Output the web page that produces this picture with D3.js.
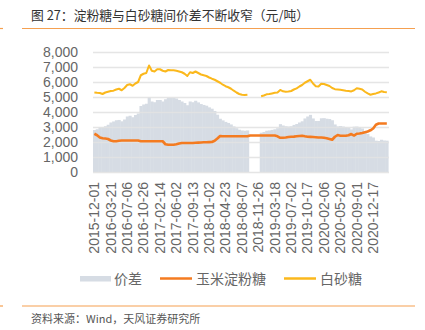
<!DOCTYPE html>
<html><head><meta charset="utf-8">
<script src="https://cdn.jsdelivr.net/npm/d3@7"></script>
<style>body{margin:0;background:#fff}svg{display:block}</style>
</head><body><svg id="c" width="425" height="330"></svg>
<script>
const titleText = "图 27：淀粉糖与白砂糖间价差不断收窄（元/吨）";
const sourceText = "资料来源：Wind，天风证券研究所";
const seriesNames = ["价差", "玉米淀粉糖", "白砂糖"];
const tickLabels = ["2015-12-01","2016-03-21","2016-07-06","2016-10-26","2017-02-14","2017-06-02",
  "2017-09-13","2018-01-02","2018-04-23","2018-08-07","2018-11-26","2019-03-18","2019-07-02",
  "2019-10-17","2020-02-06","2020-05-20","2020-09-01","2020-12-17"];
const samplesPerLabel = 6;
const yTicks = [0,1000,2000,3000,4000,5000,6000,7000,8000];

// 白砂糖
const sugar = [5300,5280,5270,5200,5300,5350,5400,5420,5500,5550,5450,5600,5800,5850,5750,5900,6000,6450,6550,6600,
  7100,6750,6700,6850,6850,6750,6700,6800,6780,6780,6750,6700,6650,6550,6400,6650,6600,
  6700,6600,6500,6450,6400,6300,6220,6150,6050,5950,5820,5720,5650,5550,5420,5300,5200,5150,5130,5150,
  null,null,null,null,
  5050,5100,5180,5200,5240,5280,5300,5470,5380,5350,5360,5400,5500,5580,5700,5800,5950,6050,6150,5900,
  5720,5700,5880,5870,5800,5730,5600,5520,5500,5480,5450,5420,5400,5370,5450,5580,5550,5500,5350,5240,
  5150,5200,5240,5300,5380,5330,5320];
// 玉米淀粉糖
const starch = [2550,2450,2300,2250,2230,2200,2100,2050,2050,2080,2100,2100,2100,2100,2100,2100,2100,
  2050,2050,2050,2050,2050,2050,2050,2050,2050,1850,1820,1820,1820,1850,1900,1930,1930,1930,1930,1930,
  1950,1960,1970,1980,1980,1990,2000,2080,2230,2400,2380,2380,2380,2380,2380,2380,2380,2380,2380,2380,
  2430,2430,2430,2430,2430,2430,2430,2430,2430,2430,2380,2280,2280,2300,2330,2350,2360,2380,2400,2420,
  2380,2350,2340,2330,2320,2300,2300,2280,2250,2200,2150,2350,2460,2420,2420,2420,2450,2530,2430,2550,
  2570,2600,2650,2700,2780,2900,3150,3230,3230,3230,3230];
// 价差
const spread = [2800,2850,2980,2980,3050,3150,3300,3370,3450,3470,3380,3500,3700,3750,3650,3800,3900,4400,4500,4550,
  5000,4700,4650,4800,4800,4700,4850,4950,4950,4950,4900,4800,4700,4600,4450,4700,4650,
  4750,4640,4530,4470,4420,4310,4220,4070,3820,3550,3440,3340,3270,3170,3040,2920,2820,2770,2750,2770,
  null,null,null,null,
  2620,2670,2750,2770,2810,2850,2920,3190,3100,3050,3030,3050,3140,3200,3300,3380,3570,3700,3810,3570,
  3400,3400,3580,3590,3550,3530,3450,3170,3040,3060,3030,3000,2950,2840,3020,3030,2980,2900,2700,2540,
  2370,2300,2090,2070,2150,2100,2090];

const svg = d3.select("#c");
const latin = "'Liberation Sans', Arial, 'Noto Sans CJK SC', sans-serif";
const cjk = "'Noto Sans CJK SC', 'Liberation Sans', sans-serif";
const colSpread = "#d6dce4", colStarch = "#f47b20", colSugar = "#fbb81c", colRule = "#f5a050";

// header / footer
svg.append("text").attr("x", 31).attr("y", 19.5).text(titleText)
  .style("font-family", cjk).style("font-size", "12.8px").style("fill", "#333");
[[22,415,28.5],[0,3,28.5],[22,415,306],[0,3,306]].forEach(([a,b,yy]) =>
  svg.append("line").attr("x1",a).attr("x2",b).attr("y1",yy).attr("y2",yy)
    .attr("stroke", colRule).attr("stroke-width", 1.2));
svg.append("text").attr("x", 31).attr("y", 323).text(sourceText)
  .style("font-family", cjk).style("font-size", "11px").style("fill", "#555");

const idx = d3.range(sugar.length);
const x = d3.scaleBand().domain(idx).range([93, 388.2]).padding(0);
const bw = x.bandwidth();
const y = d3.scaleLinear().domain([0, 8000]).range([172, 52]);

// bars
svg.append("g").selectAll("rect").data(idx.filter(i => spread[i] != null)).join("rect")
  .attr("x", i => x(i)).attr("width", bw + 0.4)
  .attr("y", i => y(spread[i])).attr("height", i => y(0) - y(spread[i]))
  .attr("fill", colSpread);

// gridlines
const yAxis = d3.axisLeft(y).tickValues(yTicks).tickFormat(d3.format(",")).tickSize(-(389 - 93)).tickPadding(15);
const gy = svg.append("g").attr("transform", "translate(93,0)").call(yAxis);
gy.select(".domain").remove();
gy.selectAll(".tick line").attr("stroke", "#e2e2e2").attr("stroke-width", 1.4).attr("opacity", 0.9);
gy.selectAll(".tick text").style("font-family", latin).style("font-size", "14px").style("fill", "#666");

// x axis
const xAxis = d3.axisBottom(x)
  .tickValues(tickLabels.map((_, k) => k * samplesPerLabel))
  .tickFormat(i => tickLabels[i / samplesPerLabel]).tickSize(0);
const gx = svg.append("g").attr("transform", "translate(0,172)").call(xAxis);
gx.select(".domain").remove();
gx.selectAll(".tick text").attr("transform", "rotate(-90)").attr("text-anchor", "end")
  .attr("x", -10).attr("y", 0).attr("dy", "0.35em")
  .style("font-family", latin).style("font-size", "14px").style("fill", "#666");

// lines
const mkLine = arr => d3.line().defined(i => arr[i] != null)
  .x(i => x(i) + bw / 2).y(i => y(arr[i]));
svg.append("path").datum(idx).attr("d", mkLine(starch)).attr("fill", "none")
  .attr("stroke", colStarch).attr("stroke-width", 2.6).attr("stroke-linejoin", "round");
svg.append("path").datum(idx).attr("d", mkLine(sugar)).attr("fill", "none")
  .attr("stroke", colSugar).attr("stroke-width", 2).attr("stroke-linejoin", "round");

// legend
const lg = svg.append("g");
const items = [{x: 80, t: "rect", c: colSpread, tx: 114}, {x: 160, t: "line", c: colStarch, tx: 196},
  {x: 284, t: "line", c: colSugar, tx: 320}];
items.forEach((it, k) => {
  if (it.t === "rect") lg.append("rect").attr("x", it.x).attr("y", 276).attr("width", 31).attr("height", 5.5).attr("fill", it.c);
  else lg.append("line").attr("x1", it.x).attr("x2", it.x + 32).attr("y1", 278.5).attr("y2", 278.5)
    .attr("stroke", it.c).attr("stroke-width", 2.5);
  lg.append("text").attr("x", it.tx).attr("y", 284).text(seriesNames[k])
    .style("font-family", cjk).style("font-size", "14px").style("fill", "#666");
});
</script></body></html>
